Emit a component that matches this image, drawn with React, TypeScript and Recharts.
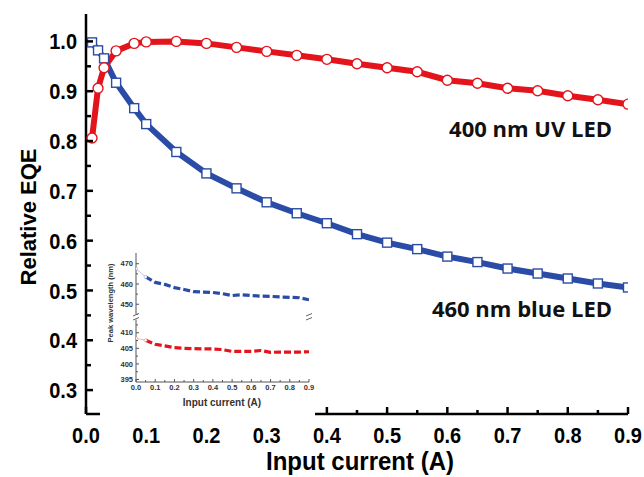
import { LineChart, Line, XAxis, YAxis } from 'recharts';

// ── Data ─────────────────────────────────────────────────────

const currents = [0.01, 0.02, 0.03, 0.05, 0.08, 0.1, 0.15, 0.2, 0.25, 0.3, 0.35, 0.4, 0.45, 0.5, 0.55, 0.6, 0.65, 0.7, 0.75, 0.8, 0.85, 0.9];
const uvEqe = [0.806, 0.906, 0.947, 0.981, 0.996, 0.999, 1.0, 0.996, 0.988, 0.98, 0.972, 0.964, 0.955, 0.947, 0.939, 0.922, 0.916, 0.906, 0.901, 0.891, 0.883, 0.874];
const blueEqe = [0.998, 0.982, 0.966, 0.917, 0.866, 0.834, 0.778, 0.735, 0.705, 0.677, 0.655, 0.635, 0.613, 0.596, 0.583, 0.568, 0.557, 0.544, 0.534, 0.524, 0.514, 0.506];

const insetCurrents = [0, 0.05, 0.1, 0.15, 0.2, 0.25, 0.3, 0.35, 0.4, 0.45, 0.5, 0.55, 0.6, 0.65, 0.7, 0.75, 0.8, 0.85, 0.9];
const bluePeak = [467.6, 463.5, 460.8, 459.8, 458.2, 457.3, 456.2, 456.0, 455.8, 455.2, 454.3, 454.7, 454.3, 454.0, 453.9, 453.6, 453.4, 453.2, 452.2];
const uvPeak = [408.2, 407.6, 406.3, 405.8, 405.2, 405.0, 404.9, 404.8, 404.8, 404.6, 404.0, 404.0, 404.0, 404.3, 403.7, 403.8, 403.8, 403.8, 403.9];

const xTicks = [0, 0.05, 0.1, 0.15, 0.2, 0.25, 0.3, 0.35, 0.4, 0.45, 0.5, 0.55, 0.6, 0.65, 0.7, 0.75, 0.8, 0.85, 0.9];
const xMajors = [0, 0.1, 0.2, 0.3, 0.4, 0.5, 0.6, 0.7, 0.8, 0.9];
const yTicks = [0.3, 0.35, 0.4, 0.45, 0.5, 0.55, 0.6, 0.65, 0.7, 0.75, 0.8, 0.85, 0.9, 0.95, 1.0];
const yMajors = [0.3, 0.4, 0.5, 0.6, 0.7, 0.8, 0.9, 1.0];
const upperTicks = [445, 450, 455, 460, 465, 470];
const upperMajors = [450, 460, 470];
const lowerTicks = [395, 397.5, 400, 402.5, 405, 407.5, 410, 412.5];
const lowerMajors = [395, 400, 405, 410];

const mainData = currents.map((x, i) => ({ x, uv: uvEqe[i], blue: blueEqe[i] }));
const blueInset = insetCurrents.map((x, i) => ({ x, v: bluePeak[i] }));
const uvInset = insetCurrents.map((x, i) => ({ x, v: uvPeak[i] }));

const RED = '#e3141b';
const BLUE = '#2a4ca6';
const SANS = '"Liberation Sans", Arial, sans-serif';

// ── Inward ticks with major / minor lengths ──────────────────

interface TickOpts {
  side: 'bottom' | 'top' | 'left' | 'right';
  majors: number[];
  major: number;
  minor: number;
  stroke: string;
  width: number;
  label?: boolean;
  fmt?: (v: number) => string;
  font?: number;
  gap?: number;
  color?: string;
  stretch?: number;
}

function makeTick(o: TickOpts) {
  return (p: any) => {
    const { x, y, payload } = p;
    const v = payload.value as number;
    const isMajor = o.majors.some((m) => Math.abs(m - v) < 1e-6);
    const len = isMajor ? o.major : o.minor;
    let x2 = x;
    let y2 = y;
    if (o.side === 'bottom') y2 = y - len;
    if (o.side === 'top') y2 = y + len;
    if (o.side === 'left') x2 = x + len;
    if (o.side === 'right') x2 = x - len;
    const fs = o.font ?? 10;
    const s = o.stretch ?? 1;
    let text = null;
    if (o.label && isMajor) {
      const str = o.fmt ? o.fmt(v) : String(v);
      if (o.side === 'bottom') {
        text = (
          <text transform={`translate(${x},${y + (o.gap ?? 10)}) scale(1,${s})`} textAnchor="middle"
            fontFamily={SANS} fontWeight="bold" fontSize={fs} fill={o.color ?? '#000'}>{str}</text>
        );
      } else if (o.side === 'left') {
        text = (
          <text transform={`translate(${x - (o.gap ?? 6)},${y + fs * 0.36 * s}) scale(1,${s})`} textAnchor="end"
            fontFamily={SANS} fontWeight="bold" fontSize={fs} fill={o.color ?? '#000'}>{str}</text>
        );
      }
    }
    return (
      <g>
        <line x1={x} y1={y} x2={x2} y2={y2} stroke={o.stroke} strokeWidth={o.width} />
        {text}
      </g>
    );
  };
}

const squareDot = (p: any) => (
  <rect key={p.index} x={p.cx - 4.5} y={p.cy - 4.5} width={9} height={9} fill="#fff" stroke={BLUE} strokeWidth={1.4} />
);

const fmt1 = (v: number) => v.toFixed(1);

// ── Inset: peak wavelength with broken y-axis ────────────────

const INSET_AXIS = '#555';

function UpperInset() {
  return (
    <LineChart width={215} height={64} margin={{ top: 0, right: 6, bottom: 0, left: 0 }}>
      <XAxis xAxisId="t" orientation="top" type="number" dataKey="x" domain={[0, 0.9]} ticks={xTicks} interval={0}
        height={0} allowDataOverflow axisLine={{ stroke: INSET_AXIS, strokeWidth: 1 }} tickLine={false} tickSize={0} tickMargin={0}
        tick={makeTick({ side: 'top', majors: xMajors, major: 3, minor: 2, stroke: INSET_AXIS, width: 1 })} />
      <YAxis yAxisId="l" type="number" domain={[443.7, 475.3]} ticks={upperTicks} interval={0} width={36} allowDataOverflow
        axisLine={{ stroke: INSET_AXIS, strokeWidth: 1 }} tickLine={false} tickSize={0} tickMargin={0}
        tick={makeTick({ side: 'left', majors: upperMajors, major: 3, minor: 2, stroke: INSET_AXIS, width: 1, label: true, font: 7.5, gap: 3, color: '#333' })} />
      <YAxis yAxisId="r" orientation="right" type="number" domain={[443.7, 475.3]} ticks={upperTicks} interval={0} width={0} allowDataOverflow
        axisLine={{ stroke: INSET_AXIS, strokeWidth: 1 }} tickLine={false} tickSize={0} tickMargin={0}
        tick={makeTick({ side: 'right', majors: upperMajors, major: 3, minor: 2, stroke: INSET_AXIS, width: 1 })} />
      <Line data={blueInset.slice(0, 2)} xAxisId="t" yAxisId="l" dataKey="v" stroke={BLUE} strokeOpacity={0.3} strokeWidth={1}
        dot={{ r: 1.6, fill: '#fff', stroke: BLUE, strokeOpacity: 0.35, strokeWidth: 0.8 }} isAnimationActive={false} />
      <Line data={blueInset.slice(1)} xAxisId="t" yAxisId="l" dataKey="v" stroke={BLUE} strokeWidth={3.2} strokeDasharray="7 3"
        dot={false} isAnimationActive={false} />
    </LineChart>
  );
}

function LowerInset() {
  return (
    <LineChart width={215} height={100} margin={{ top: 0, right: 6, bottom: 0, left: 0 }}>
      <XAxis xAxisId="b" type="number" dataKey="x" domain={[0, 0.9]} ticks={xTicks} interval={0} height={35} allowDataOverflow
        axisLine={{ stroke: INSET_AXIS, strokeWidth: 1 }} tickLine={false} tickSize={0} tickMargin={0}
        tick={makeTick({ side: 'bottom', majors: xMajors, major: 3, minor: 2, stroke: INSET_AXIS, width: 1, label: true, fmt: fmt1, font: 7.5, gap: 8, color: '#333' })} />
      <YAxis yAxisId="l" type="number" domain={[394.2, 415.05]} ticks={lowerTicks} interval={0} width={36} allowDataOverflow
        axisLine={{ stroke: INSET_AXIS, strokeWidth: 1 }} tickLine={false} tickSize={0} tickMargin={0}
        tick={makeTick({ side: 'left', majors: lowerMajors, major: 3, minor: 2, stroke: INSET_AXIS, width: 1, label: true, font: 7.5, gap: 3, color: '#333' })} />
      <YAxis yAxisId="r" orientation="right" type="number" domain={[394.2, 415.05]} ticks={lowerTicks} interval={0} width={0} allowDataOverflow
        axisLine={{ stroke: INSET_AXIS, strokeWidth: 1 }} tickLine={false} tickSize={0} tickMargin={0}
        tick={makeTick({ side: 'right', majors: lowerMajors, major: 3, minor: 2, stroke: INSET_AXIS, width: 1 })} />
      <Line data={uvInset.slice(0, 2)} xAxisId="b" yAxisId="l" dataKey="v" stroke={RED} strokeOpacity={0.3} strokeWidth={1}
        dot={{ r: 1.6, fill: '#fff', stroke: RED, strokeOpacity: 0.35, strokeWidth: 0.8 }} isAnimationActive={false} />
      <Line data={uvInset.slice(1)} xAxisId="b" yAxisId="l" dataKey="v" stroke={RED} strokeWidth={3.2} strokeDasharray="7 3"
        dot={false} isAnimationActive={false} />
    </LineChart>
  );
}

// ── Main chart ───────────────────────────────────────────────

export default function App() {
  return (
    <div style={{ position: 'relative', width: 644, height: 477, background: '#fff' }}>
      <style>{'body{margin:0}'}</style>
      <LineChart width={644} height={477} data={mainData} margin={{ top: 14, right: 16, bottom: 0, left: 0 }}>
        <XAxis xAxisId="x" type="number" dataKey="x" domain={[0, 0.9]} ticks={xTicks} interval={0} height={63} allowDataOverflow
          axisLine={{ stroke: '#000', strokeWidth: 2.5 }} tickLine={false} tickSize={0} tickMargin={0}
          tick={makeTick({ side: 'bottom', majors: xMajors, major: 7, minor: 4, stroke: '#000', width: 2.5, label: true, fmt: fmt1, font: 20, gap: 29, stretch: 1.12 })} />
        <XAxis xAxisId="top" orientation="top" type="number" domain={[0, 0.9]} ticks={xTicks} interval={0} height={0} allowDataOverflow
          axisLine={{ stroke: '#000', strokeWidth: 2.5 }} tickLine={false} tickSize={0} tickMargin={0}
          tick={makeTick({ side: 'top', majors: xMajors, major: 7, minor: 5, stroke: '#000', width: 2.5 })} />
        <YAxis yAxisId="y" type="number" domain={[0.252, 1.055]} ticks={yTicks} interval={0} width={86} allowDataOverflow
          axisLine={{ stroke: '#000', strokeWidth: 2.5 }} tickLine={false} tickSize={0} tickMargin={0}
          tick={makeTick({ side: 'left', majors: yMajors, major: 7, minor: 5, stroke: '#000', width: 2.5, label: true, fmt: fmt1, font: 20, gap: 9, stretch: 1.12 })} />
        <YAxis yAxisId="r" orientation="right" type="number" domain={[0.252, 1.055]} ticks={yTicks} interval={0} width={0} allowDataOverflow
          axisLine={{ stroke: '#000', strokeWidth: 2.5 }} tickLine={false} tickSize={0} tickMargin={0}
          tick={makeTick({ side: 'right', majors: yMajors, major: 7, minor: 7, stroke: '#000', width: 2.5 })} />
        <Line xAxisId="x" yAxisId="y" dataKey="blue" stroke={BLUE} strokeWidth={6} dot={squareDot} isAnimationActive={false} />
        <Line xAxisId="x" yAxisId="y" dataKey="uv" stroke={RED} strokeWidth={6}
          dot={{ r: 5, fill: '#fff', stroke: RED, strokeWidth: 1.4 }} isAnimationActive={false} />
      </LineChart>

      <div style={{ position: 'absolute', left: 100, top: 253, background: '#fff' }}>
        <UpperInset />
      </div>
      <div style={{ position: 'absolute', left: 100, top: 317, background: '#fff' }}>
        <LowerInset />
      </div>

      <svg width={644} height={477} style={{ position: 'absolute', left: 0, top: 0, pointerEvents: 'none' }}>
        <text transform="translate(36,217) rotate(-90)" textAnchor="middle" fontFamily={SANS} fontWeight="bold" fontSize={22} fill="#000">
          Relative EQE
        </text>
        <text transform="translate(360,470) scale(1,1.08)" textAnchor="middle" fontFamily={SANS} fontWeight="bold" fontSize={24} fill="#000">
          Input current (A)
        </text>
        <text x={612} y={137} textAnchor="end" fontFamily='"Open Sans", sans-serif' fontWeight="bold" fontSize={22} fill="#111">
          400 nm UV LED
        </text>
        <text x={612} y={317} textAnchor="end" fontFamily='"Open Sans", sans-serif' fontWeight="bold" fontSize={22} fill="#111">
          460 nm blue LED
        </text>
        <text transform="translate(113,303) rotate(-90)" textAnchor="middle" fontFamily={SANS} fontWeight="bold" fontSize={7.5} fill="#333">
          Peak wavelength (nm)
        </text>
        <text x={222} y={406} textAnchor="middle" fontFamily={SANS} fontWeight="bold" fontSize={10} fill="#333">
          Input current (A)
        </text>
        {[136, 309].map((bx) => (
          <g key={bx}>
            <rect x={bx - 3} y={314.5} width={6} height={5} fill="#fff" />
            <line x1={bx - 3} y1={316} x2={bx + 3} y2={313.5} stroke={INSET_AXIS} strokeWidth={0.9} />
            <line x1={bx - 3} y1={320} x2={bx + 3} y2={317.5} stroke={INSET_AXIS} strokeWidth={0.9} />
          </g>
        ))}
      </svg>
    </div>
  );
}
